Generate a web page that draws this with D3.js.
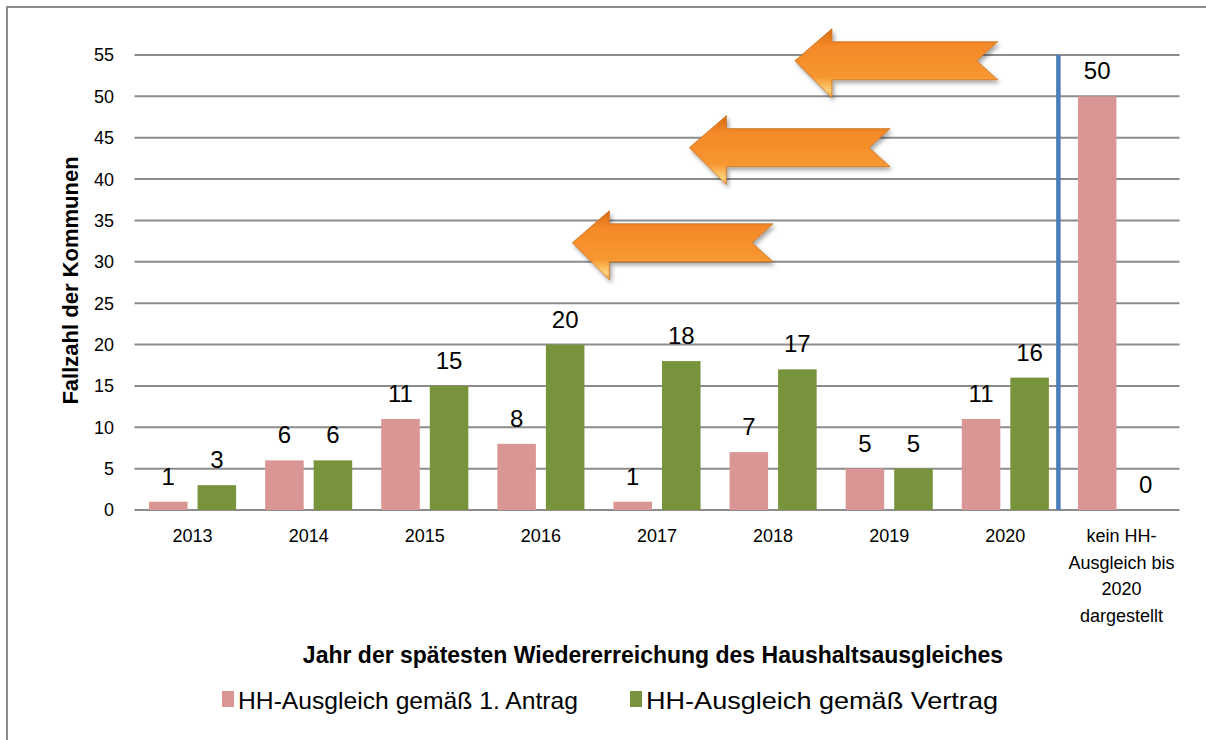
<!DOCTYPE html>
<html>
<head>
<meta charset="utf-8">
<script src="https://cdn.jsdelivr.net/npm/d3@7"></script>
<style>
  html, body { margin: 0; padding: 0; background: #fff; }
  svg { display: block; }
  text { font-family: "Liberation Sans", "DejaVu Sans", sans-serif; fill: #000; }
</style>
</head>
<body>
<svg id="chart" width="1206" height="740"></svg>
<script>
// ---- data ----
const categories = ["2013", "2014", "2015", "2016", "2017", "2018", "2019", "2020", "kein HH-Ausgleich bis 2020 dargestellt"];
const categoryLines = [["2013"], ["2014"], ["2015"], ["2016"], ["2017"], ["2018"], ["2019"], ["2020"], ["kein HH-", "Ausgleich bis", "2020", "dargestellt"]];
const seriesNames = ["HH-Ausgleich gemäß 1. Antrag", "HH-Ausgleich gemäß Vertrag"];
const antragValues = [1, 6, 11, 8, 1, 7, 5, 11, 50];
const vertragValues = [3, 6, 15, 20, 18, 17, 5, 16, 0];
const yTicks = [0, 5, 10, 15, 20, 25, 30, 35, 40, 45, 50, 55];
const yTitle = "Fallzahl der Kommunen";
const xTitle = "Jahr der spätesten Wiedererreichung des Haushaltsausgleiches";
// decorative arrows: y in data units, x as fraction of plot width (tip, tail)
const arrows = [
  { y: 54.3, tip: 0.632, tail: 0.826 },
  { y: 43.8, tip: 0.531, tail: 0.723 },
  { y: 32.3, tip: 0.419, tail: 0.611 }
];

const colors = ["#d99694", "#77933c"];
const series = [antragValues, vertragValues];

const svg = d3.select("#chart");
const m = { left: 134.5, right: 1179.5, top: 55, bottom: 510 };

// outer frame
svg.append("rect").attr("x", 7).attr("y", 7).attr("width", 1210).attr("height", 760)
  .attr("fill", "none").attr("stroke", "#8c8c8c").attr("stroke-width", 2);

const x0 = d3.scaleBand().domain(categories).range([m.left, m.right]).padding(0);
const x1 = d3.scaleBand().domain([0, 1])
  .range([x0.bandwidth() * 0.125, x0.bandwidth() * 0.875]).paddingInner(0.206);
const y = d3.scaleLinear().domain([0, 55]).range([m.bottom, m.top]);

// gridlines
svg.append("g").selectAll("line").data(yTicks).join("line")
  .attr("x1", m.left).attr("x2", m.right)
  .attr("y1", d => y(d)).attr("y2", d => y(d))
  .attr("stroke", "#8c8c8c").attr("stroke-width", 2);

// y tick labels
svg.append("g").selectAll("text").data(yTicks).join("text")
  .attr("x", 114).attr("y", d => y(d)).attr("dy", "0.36em")
  .attr("text-anchor", "end").attr("font-size", 18).text(d => d);

// y title
svg.append("text")
  .attr("transform", `translate(78, ${(m.top + m.bottom) / 2 - 2}) rotate(-90)`)
  .attr("text-anchor", "middle").attr("font-size", 22).attr("font-weight", "bold")
  .text(yTitle);

// bars
const groups = svg.append("g").selectAll("g").data(categories).join("g")
  .attr("transform", d => `translate(${x0(d)},0)`);

groups.each(function(cat, i) {
  const g = d3.select(this);
  series.forEach((vals, s) => {
    const v = vals[i];
    g.append("rect")
      .attr("x", x1(s)).attr("width", x1.bandwidth())
      .attr("y", y(v)).attr("height", y(0) - y(v))
      .attr("fill", colors[s]);
    g.append("text")
      .attr("x", x1(s) + x1.bandwidth() / 2)
      .attr("y", y(v) - 17)
      .attr("text-anchor", "middle").attr("font-size", 24)
      .text(v);
  });
});

// x tick labels
const xl = svg.append("g").selectAll("text").data(categories).join("text")
  .attr("x", d => x0(d) + x0.bandwidth() / 2)
  .attr("y", 542)
  .attr("text-anchor", "middle").attr("font-size", 18);
xl.each(function(d, i) {
  const t = d3.select(this);
  categoryLines[i].forEach((line, k) => {
    t.append("tspan").attr("x", x0(d) + x0.bandwidth() / 2)
      .attr("dy", k === 0 ? 0 : 26.5).text(line);
  });
});

// blue separator line
const sepX = x0(categories[8]) - 5;
svg.append("line").attr("x1", sepX).attr("x2", sepX)
  .attr("y1", y(55)).attr("y2", y(0))
  .attr("stroke", "#4a7ebb").attr("stroke-width", 4.5);

// x title
svg.append("text").attr("x", 653).attr("y", 663)
  .attr("text-anchor", "middle").attr("font-size", 23).attr("font-weight", "bold")
  .text(xTitle);

// legend
const legendItems = [{ x: 222, name: seriesNames[0], c: colors[0], w: 340 }, { x: 630, name: seriesNames[1], c: colors[1], w: 352 }];
const lg = svg.append("g").selectAll("g").data(legendItems).join("g")
  .attr("transform", d => `translate(${d.x},0)`);
lg.append("rect").attr("x", 0).attr("y", 691).attr("width", 12).attr("height", 16).attr("fill", d => d.c);
lg.append("text").attr("x", 16).attr("y", 709).attr("font-size", 24)
  .attr("textLength", d => d.w).attr("lengthAdjust", "spacingAndGlyphs")
  .text(d => d.name);

// arrows
const defs = svg.append("defs");
const grad = defs.append("linearGradient").attr("id", "arrowGrad")
  .attr("x1", 0).attr("y1", 0).attr("x2", 0).attr("y2", 1);
grad.append("stop").attr("offset", "0%").attr("stop-color", "#d56a12");
grad.append("stop").attr("offset", "25%").attr("stop-color", "#f58a2a");
grad.append("stop").attr("offset", "70%").attr("stop-color", "#f7962f");
grad.append("stop").attr("offset", "90%").attr("stop-color", "#fdd27a");
grad.append("stop").attr("offset", "100%").attr("stop-color", "#f5a040");
const shadow = defs.append("filter").attr("id", "ashadow").attr("x", "-10%").attr("y", "-20%").attr("width", "130%").attr("height", "160%");
shadow.append("feDropShadow").attr("dx", 2).attr("dy", 3).attr("stdDeviation", 2)
  .attr("flood-color", "#000").attr("flood-opacity", 0.35);

const pw = m.right - m.left;
svg.append("g").selectAll("path").data(arrows).join("path")
  .attr("d", a => {
    const cy = y(a.y);
    const tx = m.left + a.tip * pw, ex = m.left + a.tail * pw;
    const hx = tx + 37, notch = ex - 21;
    return `M${tx},${cy} L${hx},${cy - 32} L${hx},${cy - 19} L${ex},${cy - 19} L${notch},${cy} L${ex},${cy + 19} L${hx},${cy + 19} L${hx},${cy + 37} Z`;
  })
  .attr("fill", "url(#arrowGrad)")
  .attr("stroke", "#c8701e").attr("stroke-width", 0.8)
  .attr("filter", "url(#ashadow)");
</script>
</body>
</html>
